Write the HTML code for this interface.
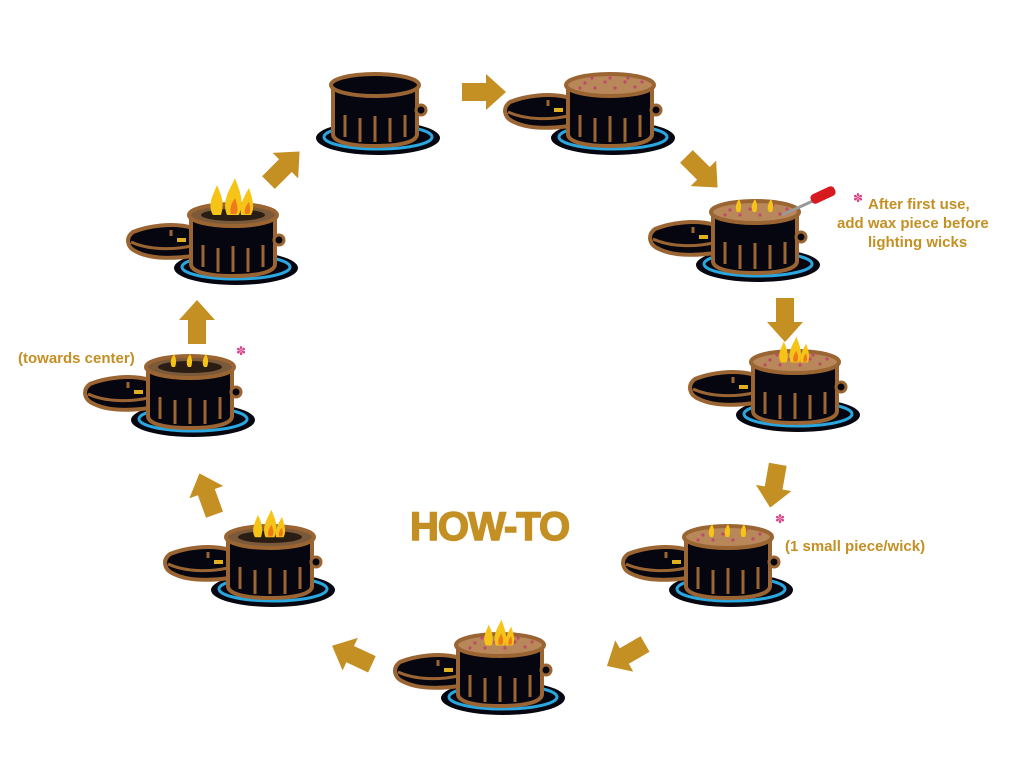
<!DOCTYPE html>
<html><head><style>
body{margin:0;background:#fff;width:1024px;height:768px;overflow:hidden;font-family:"Liberation Sans",sans-serif}
</style></head><body>
<svg width="1024" height="768" viewBox="0 0 1024 768" xmlns="http://www.w3.org/2000/svg">
<defs>
<g id="plate">
<ellipse cx="3" cy="28" rx="62" ry="17" fill="#05060f"/>
<ellipse cx="3" cy="27" rx="54" ry="12" fill="none" stroke="#2aa7df" stroke-width="3"/>
</g>
<g id="lid">
<path d="M-40,-12 C-60,-18 -85,-14 -100,-8 C-108,-2 -106,8 -96,12 C-80,20 -55,18 -40,16 Z" fill="#05060f" stroke="#9a6433" stroke-width="4"/>
<path d="M-102,2 C-85,10 -60,10 -42,6" fill="none" stroke="#9a6433" stroke-width="3"/>
<path d="M-62,-10 l0,6" stroke="#9a6433" stroke-width="3"/>
<rect x="-56" y="-2" width="9" height="4" fill="#e0b020"/>
</g>
<g id="body">
<path d="M-42,-25 L-42,24 C-42,32 -25,36 0,36 C25,36 42,32 42,24 L42,-25 Z" fill="#05060f" stroke="#9a6433" stroke-width="4"/>
<path d="M-30,5 v22 M-15,8 v24 M0,6 v26 M15,8 v24 M30,5 v22" stroke="#9a6433" stroke-width="3" fill="none"/>
<circle cx="46" cy="0" r="5" fill="#05060f" stroke="#9a6433" stroke-width="3"/>
</g>
<g id="topTan"><ellipse cx="0" cy="-25" rx="44" ry="11" fill="#b8875a" stroke="#9a6433" stroke-width="4"/>
<g fill="#c04a6a"><circle cx="-25" cy="-27" r="1.6"/><circle cx="-15" cy="-22" r="1.6"/><circle cx="-5" cy="-28" r="1.6"/><circle cx="5" cy="-22" r="1.6"/><circle cx="15" cy="-28" r="1.6"/><circle cx="25" cy="-23" r="1.6"/><circle cx="-30" cy="-22" r="1.6"/><circle cx="32" cy="-28" r="1.6"/><circle cx="0" cy="-32" r="1.6"/><circle cx="-18" cy="-32" r="1.6"/><circle cx="18" cy="-32" r="1.6"/></g></g>
<g id="topDark"><ellipse cx="0" cy="-25" rx="44" ry="11" fill="#7a5a3a" stroke="#9a6433" stroke-width="4"/><ellipse cx="0" cy="-25" rx="32" ry="6" fill="#2a1d14"/></g>
<g id="topClosed"><ellipse cx="0" cy="-25" rx="44" ry="11" fill="#05060f" stroke="#9a6433" stroke-width="4"/></g>
<g id="flames">
<path d="M-20,-25 C-26,-35 -20,-45 -16,-55 C-12,-45 -8,-38 -12,-25 Z" fill="#f6c417"/>
<path d="M-6,-25 C-12,-40 -2,-52 2,-62 C6,-50 12,-40 6,-25 Z" fill="#f6c417"/>
<path d="M8,-25 C6,-35 12,-45 16,-52 C20,-40 22,-32 18,-25 Z" fill="#f6c417"/>
<path d="M-2,-26 C-4,-34 0,-38 2,-42 C4,-36 6,-30 3,-26 Z" fill="#ef7a1c"/>
<path d="M12,-26 C11,-32 14,-36 16,-38 C17,-33 18,-29 16,-26 Z" fill="#ef7a1c"/>
</g>
<g id="small">
<path d="M-18,-25 C-21,-30 -18,-35 -16,-38 C-14,-34 -13,-30 -15,-25 Z" fill="#f6c417"/>
<path d="M-2,-25 C-5,-30 -2,-35 0,-38 C2,-34 3,-30 1,-25 Z" fill="#f6c417"/>
<path d="M14,-25 C11,-30 14,-35 16,-38 C18,-34 19,-30 17,-25 Z" fill="#f6c417"/>
</g>
<path id="arrow" d="M-22,-9 L2,-9 L2,-18 L22,0 L2,18 L2,9 L-22,9 Z" fill="#c48f23"/>
</defs>

<use href="#arrow" transform="translate(484,92)"/>
<use href="#arrow" transform="translate(702,172) rotate(45)"/>
<use href="#arrow" transform="translate(785,320) rotate(90)"/>
<use href="#arrow" transform="translate(774,486) rotate(100)"/>
<use href="#arrow" transform="translate(626,655) rotate(150)"/>
<use href="#arrow" transform="translate(352,655) rotate(205)"/>
<use href="#arrow" transform="translate(207,494) rotate(250)"/>
<use href="#arrow" transform="translate(197,322) rotate(270)"/>
<use href="#arrow" transform="translate(284,167) rotate(-45)"/>

<g transform="translate(375,110)"><use href="#plate"/><use href="#body"/><use href="#topClosed"/></g>
<g transform="translate(610,110)"><use href="#plate"/><use href="#lid"/><use href="#body"/><use href="#topTan"/></g>
<g transform="translate(755,237)"><use href="#plate"/><use href="#lid"/><use href="#body"/><use href="#topTan"/><use href="#small"/></g>
<path d="M782,215 L815,200" stroke="#999" stroke-width="3"/>
<rect x="810" y="190" width="26" height="10" rx="4" fill="#d71920" transform="rotate(-25 823 195)"/>
<g transform="translate(795,387)"><use href="#plate"/><use href="#lid"/><use href="#body"/><use href="#topTan"/><use href="#flames" transform="scale(0.7) translate(0,-10)"/></g>
<g transform="translate(728,562)"><use href="#plate"/><use href="#lid"/><use href="#body"/><use href="#topTan"/><use href="#small"/></g>
<g transform="translate(500,670)"><use href="#plate"/><use href="#lid"/><use href="#body"/><use href="#topTan"/><use href="#flames" transform="scale(0.7) translate(0,-10)"/></g>
<g transform="translate(270,562)"><use href="#plate"/><use href="#lid"/><use href="#body"/><use href="#topDark"/><use href="#flames" transform="scale(0.75) translate(0,-8)"/></g>
<g transform="translate(190,392)"><use href="#plate"/><use href="#lid"/><use href="#body"/><use href="#topDark"/><use href="#small"/></g>
<g transform="translate(233,240)"><use href="#plate"/><use href="#lid"/><use href="#body"/><use href="#topDark"/><use href="#flames"/></g>

<g fill="#d6448a" font-size="12"><text x="853" y="202">✽</text><text x="236" y="355">✽</text><text x="775" y="523">✽</text></g>

<g fill="#c48f23" font-weight="bold" font-family="Liberation Sans,sans-serif">
<text x="868" y="209" font-size="15">After first use,</text>
<text x="837" y="228" font-size="15">add wax piece before</text>
<text x="868" y="247" font-size="15">lighting wicks</text>
<text x="18" y="363" font-size="15">(towards center)</text>
<text x="785" y="551" font-size="15">(1 small piece/wick)</text>
<text x="410" y="540" font-size="40" stroke="#c48f23" stroke-width="1.5" letter-spacing="-1">HOW-TO</text>
</g>
</svg>
</body></html>
